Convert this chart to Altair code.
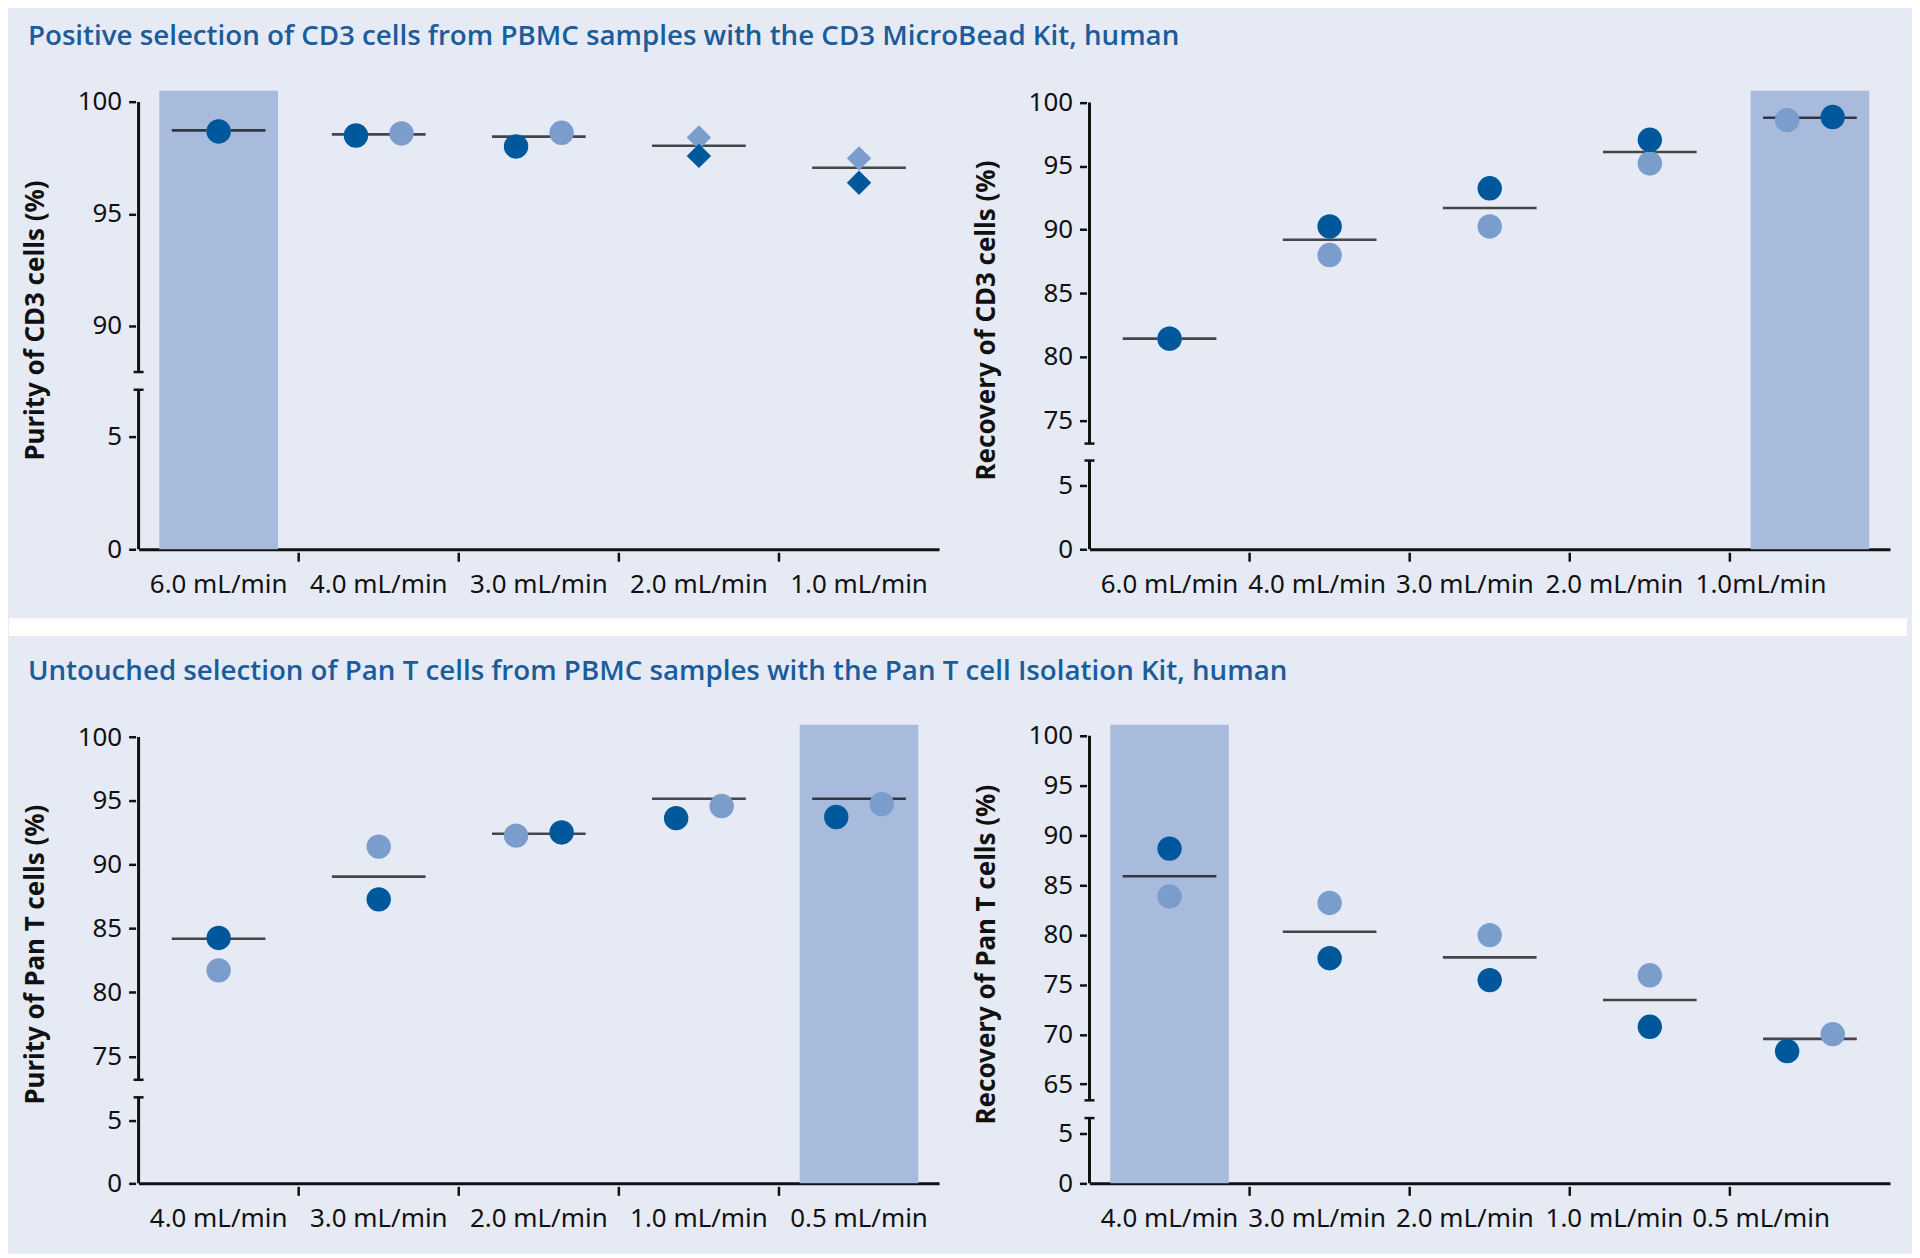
import altair as alt
import pandas as pd

# ---------------- data ----------------
cats_cd3 = ["6.0 mL/min", "4.0 mL/min", "3.0 mL/min", "2.0 mL/min", "1.0 mL/min"]
cats_cd3_rec = ["6.0 mL/min", "4.0 mL/min", "3.0 mL/min", "2.0 mL/min", "1.0mL/min"]
cats_pant = ["4.0 mL/min", "3.0 mL/min", "2.0 mL/min", "1.0 mL/min", "0.5 mL/min"]

# Purity of CD3 cells
pur_cd3_run1 = [98.68, 98.50, 98.01, 97.59, 96.39]
pur_cd3_run2 = [98.68, 98.59, 98.62, 98.41, 97.48]
pur_cd3_pos1 = ["C", "L", "L", "C", "C"]
pur_cd3_pos2 = ["C", "R", "R", "C", "C"]
pur_cd3_shape = ["circle", "circle", "circle", "diamond", "diamond"]
pur_cd3_mean = [98.73, 98.55, 98.45, 98.04, 97.06]

# Recovery of CD3 cells
rec_cd3_run1 = [81.43, 90.25, 93.25, 97.06, 98.85]
rec_cd3_run2 = [81.43, 88.00, 90.25, 95.20, 98.60]
rec_cd3_pos1 = ["C", "C", "C", "C", "R"]
rec_cd3_pos2 = ["C", "C", "C", "C", "L"]
rec_cd3_mean = [81.43, 89.20, 91.70, 96.10, 98.79]

# Purity of Pan T cells
pur_pant_run1 = [84.27, 87.29, 92.53, 93.65, 93.74]
pur_pant_run2 = [81.73, 91.42, 92.28, 94.60, 94.75]
pur_pant_pos1 = ["C", "C", "R", "L", "L"]
pur_pant_pos2 = ["C", "C", "L", "R", "R"]
pur_pant_mean = [84.21, 89.07, 92.43, 95.17, 95.17]

# Recovery of Pan T cells
rec_pant_run1 = [88.66, 77.65, 75.45, 70.76, 68.31]
rec_pant_run2 = [83.85, 83.20, 79.97, 75.93, 70.02]
rec_pant_pos1 = ["C", "C", "C", "C", "L"]
rec_pant_pos2 = ["C", "C", "C", "C", "R"]
rec_pant_mean = [85.88, 80.30, 77.73, 73.45, 69.54]

circles = ["circle"] * 5
slots = ["l2", "l1", "L", "C", "R", "r1", "r2"]

title_1 = "Positive selection of CD3 cells from PBMC samples with the CD3 MicroBead Kit, human"
title_2 = "Untouched selection of Pan T cells from PBMC samples with the Pan T cell Isolation Kit, human"

# ---------------- style ----------------
BG = "#e6eaf5"
BAND = "#a8bbdd"
DARK = "#00589c"
LIGHT = "#7b9dcc"
TITLE = "#1b5c9b"
INK = "#111111"
W, H = 803, 460
LABEL_FONT = "Noto Sans"
CRAMPED = [0, -12.5, -25, -35.5, -49]   # label shifts in the right-hand panels


def panel(cats, run1, run2, pos1, pos2, shapes, mean, highlight, ytitle,
          ydom, yrange, yticks, breaks, title=None, toff=16.5, stripe=False,
          cramped=False):
    pts = pd.DataFrame({
        "cat": cats + cats,
        "value": run2 + run1,
        "pos": pos2 + pos1,
        "run": ["Run 2"] * 5 + ["Run 1"] * 5,
        "shape": shapes + shapes,
    })
    means = pd.DataFrame({"cat": cats, "mean": mean})
    band = pd.DataFrame({"cat": [highlight], "lo": [0.0], "hi": [ydom[-1]]})
    segs = pd.DataFrame({"lo": [0.0, breaks[1]], "hi": [breaks[0], 100.0]})
    caps = pd.DataFrame({"cap": breaks})
    bounds = pd.DataFrame({"cat": cats[1:]})

    xaxis_kw = dict(
        title=None, labelAngle=0, ticks=False, tickSize=0, labelPadding=22,
        labelFont=LABEL_FONT, labelFontSize=26, labelColor=INK,
        labelOverlap=False, labelLimit=300,
        domain=True, domainColor=INK, domainWidth=3,
    )
    if cramped:
        xaxis_kw["labelOffset"] = {
            "condition": [
                {"test": f"datum.value === '{c}'", "value": o}
                for c, o in zip(cats[1:], CRAMPED[1:])
            ],
            "value": 0,
        }
    xscale = alt.Scale(domain=cats, paddingInner=0, paddingOuter=0)
    xaxis = alt.Axis(**xaxis_kw)
    yscale = alt.Scale(domain=ydom, range=yrange, nice=False, zero=False)
    yaxis = alt.Axis(
        values=yticks, domain=False, offset=3, tickSize=7, tickWidth=2.5,
        tickColor=INK, labelPadding=7, labelFont=LABEL_FONT, labelFontSize=26,
        labelColor=INK, labelOverlap=False, grid=False,
        title=ytitle, titleFont="Noto Sans", titleFontSize=26,
        titleFontWeight="bold", titleColor=INK, titlePadding=29,
    )

    def X(field="cat:N", **kw):
        return alt.X(field, scale=xscale, axis=xaxis, **kw)

    def Y(field):
        return alt.Y(field, scale=yscale, axis=yaxis)

    layers = []
    if stripe:
        layers.append(
            alt.Chart(pd.DataFrame({"s": [0]})).mark_rect(color="white").encode(
                x=alt.value(-1084), x2=alt.value(820),
                y=alt.value(-107), y2=alt.value(-89)))
    layers += [
        alt.Chart(band).mark_bar(color=BAND, size=119).encode(
            x=X(), y=Y("lo:Q"), y2="hi:Q"),
        alt.Chart(segs).mark_rule(color=INK, strokeWidth=3).encode(
            x=alt.value(0), y=Y("lo:Q"), y2="hi:Q"),
        alt.Chart(caps).mark_rule(color=INK, strokeWidth=2.5).encode(
            x=alt.value(-5), x2=alt.value(5), y=Y("cap:Q")),
        alt.Chart(bounds).mark_rule(color=INK, strokeWidth=2.5).encode(
            x=X(bandPosition=0), y=alt.value(H + 3.5), y2=alt.value(H + 12.5)),
        alt.Chart(means).mark_tick(color="#000000", thickness=2.6, size=94).encode(
            x=X(), y=Y("mean:Q")),
        alt.Chart(pts).mark_point(filled=True, size=600, opacity=1).encode(
            x=X(),
            xOffset=alt.XOffset("pos:N", scale=alt.Scale(
                domain=slots, paddingInner=0, paddingOuter=0.515)),
            y=Y("value:Q"),
            color=alt.Color("run:N", scale=alt.Scale(
                domain=["Run 1", "Run 2"], range=[DARK, LIGHT]), legend=None),
            shape=alt.Shape("shape:N", scale=alt.Scale(
                domain=["circle", "diamond"], range=["circle", "diamond"]),
                legend=None),
        ),
    ]
    props = dict(width=W, height=H)
    if title:
        props["title"] = alt.Title(
            title, anchor="start", frame="group", font="Open Sans",
            fontSize=27.8, fontWeight=600, color=TITLE, offset=toff,
            baseline="alphabetic", dx=-111)
    return alt.layer(*layers).properties(**props)


p_tl = panel(cats_cd3, pur_cd3_run1, pur_cd3_run2, pur_cd3_pos1, pur_cd3_pos2,
             pur_cd3_shape, pur_cd3_mean, "6.0 mL/min", "Purity of CD3 cells (%)",
             [0, 7.1, 87.94, 100.5], [H, H - 160, H - 177.8, 0],
             [0, 5, 90, 95, 100], [7.1, 87.94], title=title_1, toff=16.5)
p_tr = panel(cats_cd3_rec, rec_cd3_run1, rec_cd3_run2, rec_cd3_pos1, rec_cd3_pos2,
             circles, rec_cd3_mean, "1.0mL/min", "Recovery of CD3 cells (%)",
             [0, 6.91, 73.18, 100.92], [H, H - 89, H - 106, 0],
             [0, 5, 75, 80, 85, 90, 95, 100], [6.91, 73.18], cramped=True)
p_bl = panel(cats_pant, pur_pant_run1, pur_pant_run2, pur_pant_pos1, pur_pant_pos2,
             circles, pur_pant_mean, "0.5 mL/min", "Purity of Pan T cells (%)",
             [0, 6.84, 73.16, 100.96], [H, H - 86.3, H - 103.9, 0],
             [0, 5, 75, 80, 85, 90, 95, 100], [6.84, 73.16], title=title_2, toff=16.7)
p_br = panel(cats_pant, rec_pant_run1, rec_pant_run2, rec_pant_pos1, rec_pant_pos2,
             circles, rec_pant_mean, "4.0 mL/min", "Recovery of Pan T cells (%)",
             [0, 6.55, 63.37, 101.1], [H, H - 65.5, H - 83.3, 0],
             [0, 5, 65, 70, 75, 80, 85, 90, 95, 100], [6.55, 63.37], stripe=True,
             cramped=True)

s1 = alt.hconcat(p_tl, p_tr, spacing=150.9, bounds="flush")
s2 = alt.hconcat(p_bl, p_br, spacing=150.9, bounds="flush")

chart = alt.vconcat(s1, s2, spacing=636.1, bounds="flush").configure(
    background=BG,
    padding={"left": 0, "top": 12, "right": 5, "bottom": 20},
).configure_view(strokeWidth=0)

chart.save("out.html", embed_options={"renderer": "svg", "actions": False})
